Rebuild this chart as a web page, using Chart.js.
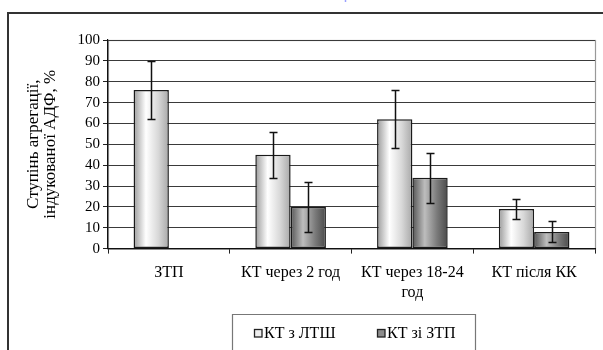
<!DOCTYPE html>
<html>
<head>
<meta charset="utf-8">
<script src="https://cdn.jsdelivr.net/npm/chart.js@4.4.1/dist/chart.umd.min.js"></script>
<style>
html,body{margin:0;padding:0;background:#fff;overflow:hidden;}
#wrap{position:relative;width:603px;height:350px;}
</style>
</head>
<body>
<div id="wrap"><canvas id="c" width="603" height="350"></canvas></div>
<script>
const categories = ["ЗТП", "КТ через 2 год", ["КТ через 18-24", "год"], "КТ після КК"];
const seriesNames = ["КТ з ЛТШ", "КТ зі ЗТП"];
const ltshValues = [76, 45, 62, 19];
const ltshErrors = [14, 11, 14, 5];
const ztpValues = [null, 20, 34, 8];
const ztpErrors = [null, 12, 12, 5];
const yTicks = [0, 10, 20, 30, 40, 50, 60, 70, 80, 90, 100];
const yTitle = ["Ступінь агрегації,", "індукованої АДФ, %"];

const SERIF = "'Liberation Serif', 'DejaVu Serif', serif";

const gradientStops = [
  [[0, '#9a9a9a'], [0.35, '#ffffff'], [0.7, '#d8d8d8'], [1, '#a8a8a8']],
  [[0, '#555555'], [0.35, '#bdbdbd'], [0.7, '#7a7a7a'], [1, '#4a4a4a']]
];

const gradientPlugin = {
  id: 'grad',
  beforeDatasetsDraw(chart) {
    const ctx = chart.ctx;
    chart.data.datasets.forEach((ds, di) => {
      const meta = chart.getDatasetMeta(di);
      meta.data.forEach(el => {
        const half = el.width / 2;
        const g = ctx.createLinearGradient(el.x - half, 0, el.x + half, 0);
        gradientStops[di].forEach(s => g.addColorStop(s[0], s[1]));
        el.options = Object.assign({}, el.options, {backgroundColor: g});
      });
    });
  }
};

const errorPlugin = {
  id: 'errs',
  afterDatasetsDraw(chart) {
    const ctx = chart.ctx;
    const y = chart.scales.y;
    ctx.save();
    ctx.strokeStyle = '#111';
    ctx.lineWidth = 1.5;
    chart.data.datasets.forEach((ds, di) => {
      const meta = chart.getDatasetMeta(di);
      meta.data.forEach((el, i) => {
        const v = ds.data[i], e = ds.errors[i];
        if (v == null || e == null) return;
        const yt = Math.round(y.getPixelForValue(v + e)) + 0.5;
        const yb = Math.round(y.getPixelForValue(v - e)) + 0.5;
        const x = Math.round(el.x) + 0.5;
        ctx.beginPath();
        ctx.moveTo(x, yt); ctx.lineTo(x, yb);
        ctx.moveTo(x - 4, yt); ctx.lineTo(x + 4, yt);
        ctx.moveTo(x - 4, yb); ctx.lineTo(x + 4, yb);
        ctx.stroke();
      });
    });
    ctx.restore();
  }
};

const framePlugin = {
  id: 'frame',
  beforeDraw(chart) {
    const ctx = chart.ctx;
    const a = chart.chartArea;
    ctx.save();
    ctx.fillStyle = '#fff';
    ctx.fillRect(0, 0, chart.width, chart.height);
    ctx.strokeStyle = '#333';
    ctx.lineWidth = 2;
    ctx.beginPath();
    ctx.moveTo(8, 352); ctx.lineTo(8, 13); ctx.lineTo(606, 13);
    ctx.stroke();
    ctx.strokeStyle = '#9aa0ff';
    ctx.lineWidth = 1.5;
    ctx.beginPath(); ctx.moveTo(345.5, 0); ctx.lineTo(345.5, 2); ctx.stroke();
    ctx.strokeStyle = '#999';
    ctx.lineWidth = 1.2;
    ctx.strokeRect(a.left + 0.5, a.top + 0.5, a.right - a.left, a.bottom - a.top);
    ctx.restore();
  },
  afterDraw(chart) {
    const ctx = chart.ctx;
    ctx.save();
    const lx = 232, lr = 475, ly = 314;
    ctx.strokeStyle = '#777';
    ctx.lineWidth = 1.2;
    ctx.beginPath();
    ctx.moveTo(lx + 0.5, 360); ctx.lineTo(lx + 0.5, ly + 0.5); ctx.lineTo(lr + 0.5, ly + 0.5); ctx.lineTo(lr + 0.5, 360);
    ctx.stroke();
    const items = [
      {x: 254, text: seriesNames[0], fill: '#eeeeee'},
      {x: 377, text: seriesNames[1], fill: '#8c8c8c'}
    ];
    ctx.font = '16px ' + SERIF;
    ctx.textBaseline = 'middle';
    ctx.textAlign = 'left';
    items.forEach(it => {
      ctx.fillStyle = it.fill;
      ctx.fillRect(it.x, 329, 8, 8);
      ctx.strokeStyle = '#222';
      ctx.lineWidth = 1.3;
      ctx.strokeRect(it.x + 0.5, 329.5, 7.5, 7.5);
      ctx.fillStyle = '#000';
      ctx.fillText(it.text, it.x + 10, 334);
    });
    ctx.restore();
  }
};

new Chart(document.getElementById('c'), {
  type: 'bar',
  data: {
    labels: categories,
    datasets: [
      {label: seriesNames[0], data: ltshValues, errors: ltshErrors, borderColor: '#1a1a1a', borderWidth: 1.5, borderSkipped: false, backgroundColor: '#eee'},
      {label: seriesNames[1], data: ztpValues, errors: ztpErrors, borderColor: '#1a1a1a', borderWidth: 1.5, borderSkipped: false, backgroundColor: '#888'}
    ]
  },
  options: {
    responsive: false,
    animation: false,
    events: [],
    layout: {padding: {left: 25, right: 8, top: 40, bottom: 38}},
    plugins: {legend: {display: false}, tooltip: {enabled: false}},
    datasets: {bar: {categoryPercentage: 0.58, barPercentage: 1}},
    scales: {
      x: {
        grid: {drawOnChartArea: false, drawTicks: true, tickLength: 5, tickColor: '#222', offset: true},
        border: {color: '#111', width: 1.2},
        ticks: {color: '#000', font: {family: SERIF, size: 16, lineHeight: 1.2}, padding: 10, maxRotation: 0, autoSkip: false}
      },
      y: {
        min: 0, max: 100,
        afterBuildTicks(s) { s.ticks = yTicks.map(v => ({value: v})); },
        afterFit(s) { s.width = 83; },
        grid: {color: '#3a3a3a', lineWidth: 1, tickLength: 5, tickColor: '#222'},
        border: {color: '#111', width: 1.2},
        ticks: {color: '#000', font: {family: SERIF, size: 15}, padding: 3, autoSkip: false},
        title: {display: true, text: yTitle, color: '#000', font: {family: SERIF, size: 17, lineHeight: 1.0}, padding: {top: 0, bottom: 8}}
      }
    }
  },
  plugins: [framePlugin, gradientPlugin, errorPlugin]
});
</script>
</body>
</html>
